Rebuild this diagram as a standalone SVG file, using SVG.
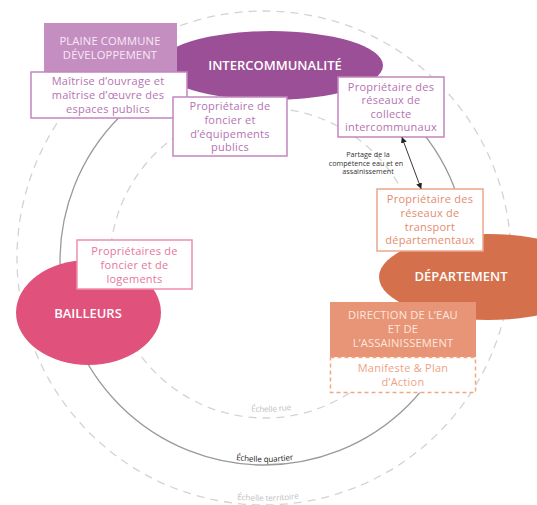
<svg xmlns="http://www.w3.org/2000/svg" width="537" height="505" viewBox="0 0 537 505">
<defs>
<style>
text{font-family:"Open Sans","Lato","DejaVu Sans",sans-serif;text-anchor:middle}
.ring{fill:none;stroke:#d3d3d3;stroke-width:1.3;stroke-dasharray:8 6}
.solid{fill:none;stroke:#9a9a9a;stroke-width:1.3}
.scale{font-size:8.2px;fill:#c2c2c2}
.head{font-size:13px;font-weight:600;fill:#ffffff}
.cap{font-size:11.2px;fill:#f6e9f5;letter-spacing:0.15px}
.box{font-size:11px;letter-spacing:0.25px}
.pbox{fill:#ffffff;stroke:#c585c1;stroke-width:1.5}
.ptxt{fill:#b672b2}
.kbox{fill:#ffffff;stroke:#f08dac;stroke-width:1.5}
.ktxt{fill:#e8769c}
.obox{fill:#ffffff;stroke:#eca78f;stroke-width:1.5}
.otxt{fill:#e58b6e}
</style>
<marker id="ah" viewBox="0 0 10 10" refX="9" refY="5" markerWidth="6" markerHeight="6" orient="auto-start-reverse" markerUnits="userSpaceOnUse">
<path d="M0,0 L10,5 L0,10 z" fill="#222"/>
</marker>
<path id="pOuter" d="M17,258 A247,247 0 0 0 511,258"/>
<path id="pMid" d="M60,261 A204,204 0 0 0 468,261"/>
<path id="pInner" d="M110,263 A155,155 0 0 0 420,263"/>
</defs>

<g id="scales">
<circle class="ring" cx="264" cy="258" r="247"/>
<circle class="solid" cx="264" cy="261" r="204"/>
<circle class="ring" cx="265" cy="263" r="155"/>
<text class="scale"><textPath href="#pOuter" startOffset="392"><tspan dy="-4">Échelle territoire</tspan></textPath></text>
<text class="scale" style="fill:#222;font-size:8px"><textPath href="#pMid" startOffset="321"><tspan dy="-3">Échelle quartier</tspan></textPath></text>
<text class="scale"><textPath href="#pInner" startOffset="250"><tspan dy="-6">Échelle rue</tspan></textPath></text>
</g>

<g id="intercommunalite">
<ellipse cx="271" cy="65.5" rx="112" ry="34.5" fill="#9b4f96"/>
<text class="head" x="275" y="70">INTERCOMMUNALITÉ</text>
</g>

<g id="bailleurs">
<ellipse cx="88.5" cy="312.5" rx="72.5" ry="52.5" fill="#e0527c"/>
<text class="head" x="88" y="318">BAILLEURS</text>
</g>

<g id="departement">
<ellipse cx="488" cy="277" rx="109" ry="43" fill="#d4704c"/>
<text class="head" x="461" y="281">DÉPARTEMENT</text>
</g>

<g id="plaine-commune">
<rect x="44" y="23" width="133" height="49" fill="#c48ec0"/>
<text class="cap"><tspan x="110" y="45">PLAINE COMMUNE</tspan><tspan x="110" y="59">DÉVELOPPEMENT</tspan></text>
</g>

<g id="maitrise">
<rect class="pbox" x="31" y="72" width="156" height="46"/>
<text class="box ptxt"><tspan x="108" y="85">Maîtrise d’ouvrage et</tspan><tspan x="108" y="99">maîtrise d’œuvre des</tspan><tspan x="108" y="112.5">espaces publics</tspan></text>
</g>

<g id="foncier-equipements">
<rect class="pbox" x="173" y="97" width="114" height="59"/>
<text class="box ptxt"><tspan x="230" y="110">Propriétaire de</tspan><tspan x="230" y="124">foncier et</tspan><tspan x="230" y="137.5">d’équipements</tspan><tspan x="230" y="151">publics</tspan></text>
</g>

<g id="reseaux-collecte">
<rect class="pbox" x="338" y="77" width="106" height="60"/>
<text class="box ptxt"><tspan x="391" y="90.5">Propriétaire des</tspan><tspan x="391" y="104">réseaux de</tspan><tspan x="391" y="117.5">collecte</tspan><tspan x="391" y="131">intercommunaux</tspan></text>
</g>

<g id="reseaux-transport">
<rect class="obox" x="377" y="189" width="106" height="62"/>
<text class="box otxt"><tspan x="430" y="203">Propriétaire des</tspan><tspan x="430" y="217">réseaux de</tspan><tspan x="430" y="230.5">transport</tspan><tspan x="430" y="244">départementaux</tspan></text>
</g>

<g id="foncier-logements">
<rect class="kbox" x="77" y="240" width="115" height="49"/>
<text class="box ktxt"><tspan x="134.5" y="255">Propriétaires de</tspan><tspan x="134.5" y="269">foncier et de</tspan><tspan x="134.5" y="282.5">logements</tspan></text>
</g>

<g id="direction-eau">
<rect x="330" y="302" width="146" height="55" fill="#e89476"/>
<text class="cap" style="fill:#fbe8df"><tspan x="403" y="319">DIRECTION DE L’EAU</tspan><tspan x="403" y="333">ET DE</tspan><tspan x="403" y="347">L’ASSAINISSEMENT</tspan></text>
</g>

<g id="manifeste">
<rect x="330.5" y="357.5" width="145" height="35" fill="#ffffff" stroke="#f1a782" stroke-width="1.5" stroke-dasharray="4 3"/>
<text class="box" style="fill:#f0a284"><tspan x="403" y="372">Manifeste &amp; Plan</tspan><tspan x="403" y="386">d’Action</tspan></text>
</g>

<g id="connectors">
<line x1="402" y1="137.5" x2="421" y2="188.5" stroke="#222" stroke-width="0.9" marker-start="url(#ah)" marker-end="url(#ah)"/>
<text style="font-size:7.2px;fill:#333"><tspan x="368" y="157">Partage de la</tspan><tspan x="366" y="165.5">compétence eau et en</tspan><tspan x="368" y="174">assainissement</tspan></text>
</g>
</svg>
